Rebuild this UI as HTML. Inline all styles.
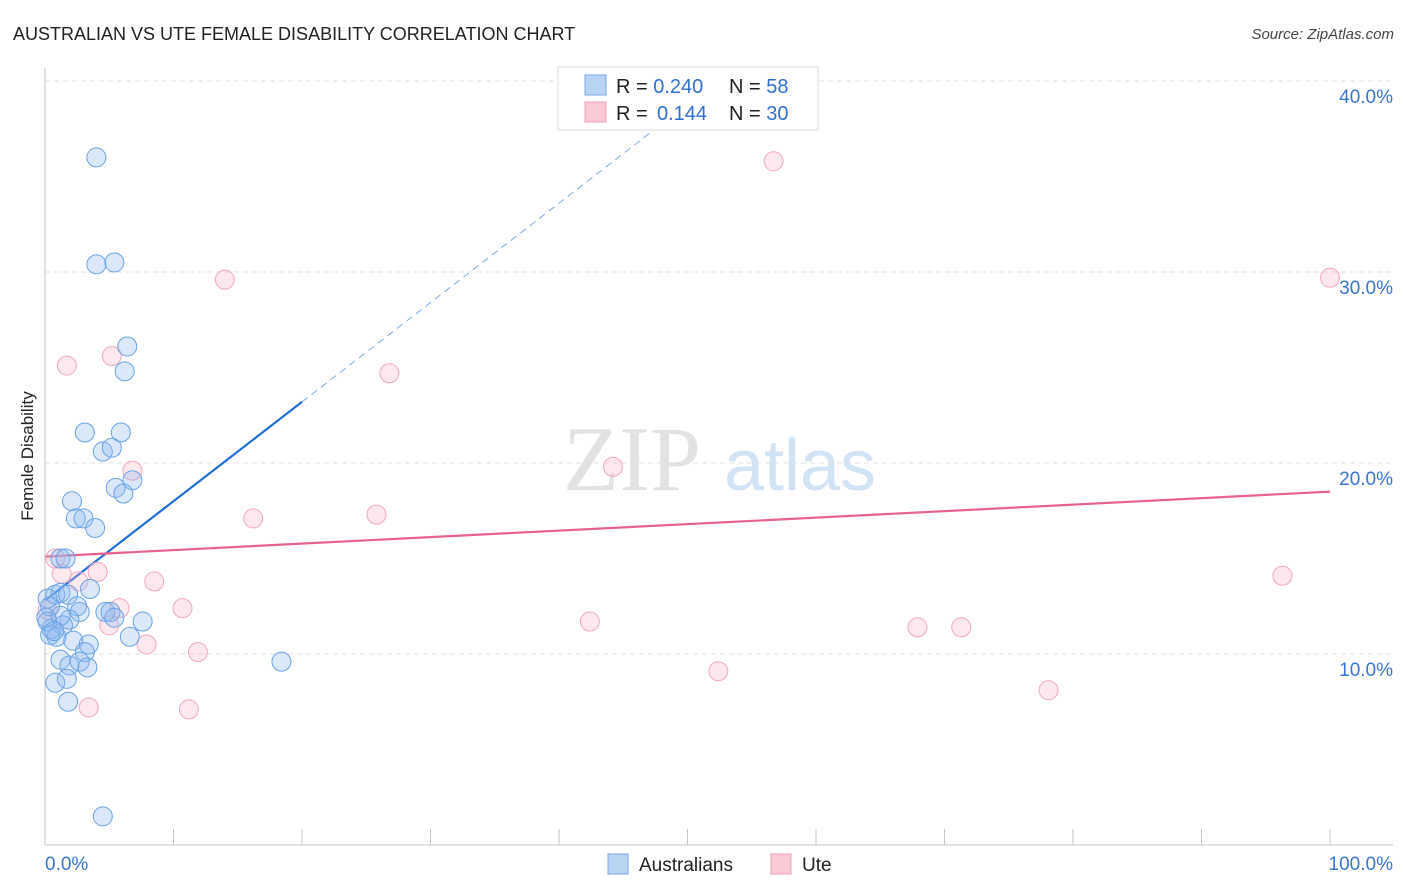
<!DOCTYPE html>
<html><head><meta charset="utf-8"><style>
body{margin:0;background:#fff;width:1406px;height:892px;overflow:hidden;font-family:"Liberation Sans",sans-serif;}
svg{position:absolute;left:0;top:0}
</style></head><body>
<svg id="chart" width="1406" height="892">
<text x="13" y="40" font-size="18" fill="#222">AUSTRALIAN VS UTE FEMALE DISABILITY CORRELATION CHART</text>
<text x="1394" y="39" font-size="15" fill="#444" font-style="italic" text-anchor="end">Source: ZipAtlas.com</text>
<text x="33" y="456" font-size="17" fill="#222" text-anchor="middle" transform="rotate(-90 33 456)">Female Disability</text>
<g><text x="632" y="490" font-size="92" fill="#e2e2e2" font-family="Liberation Serif,serif" text-anchor="middle">ZIP</text><text x="800" y="490" font-size="72" fill="#d3e3f6" text-anchor="middle">atlas</text></g>
<g id="grid"></g><g id="axes"></g><g id="trends"></g><g id="pts"></g>
<g>
<rect x="558" y="67" width="260" height="63" fill="#fff" stroke="#ddd"/>
<rect x="585" y="75" width="21" height="20" fill="#b9d3f3" stroke="#7aaae6"/>
<rect x="585" y="102" width="21" height="20" fill="#f9c9d6" stroke="#f0a0b8"/>
<text x="616" y="93" font-size="20" fill="#222">R = <tspan fill="#2f6fd0">0.240</tspan><tspan x="729">N = </tspan><tspan fill="#2f6fd0">58</tspan></text>
<text x="616" y="120" font-size="20" fill="#222">R = <tspan x="657" fill="#2f6fd0">0.144</tspan><tspan x="729">N = </tspan><tspan fill="#2f6fd0">30</tspan></text>
</g>
<g>
<rect x="608" y="854" width="20" height="20" fill="#b9d3f3" stroke="#7aaae6"/>
<text x="639" y="871" font-size="19" fill="#222">Australians</text>
<rect x="771" y="854" width="20" height="20" fill="#f9c9d6" stroke="#f0a0b8"/>
<text x="802" y="871" font-size="19" fill="#222">Ute</text>
</g>
</svg>
<script>
const yTicks=[10,20,30,40];
const xTickLabels=["0.0%","100.0%"];
const ausX=[4.0,4.0,5.4,6.4,6.2,3.1,5.9,4.5,5.2,5.5,6.8,6.1,2.1,2.4,3.0,3.9,1.2,1.6,0.8,1.2,1.8,3.5,0.4,2.5,2.7,4.7,5.1,1.9,1.4,7.6,0.2,0.5,0.4,0.9,2.2,3.4,6.6,3.1,1.2,1.9,2.7,3.3,18.4,0.8,1.7,1.8,4.5,0.1,1.2,5.4,0.7,0.2];
const ausY=[36.0,30.4,30.5,26.1,24.8,21.6,21.6,20.6,20.8,18.7,19.1,18.4,18.0,17.1,17.1,16.6,15.0,15.0,13.1,13.2,13.1,13.4,12.5,12.5,12.2,12.2,12.2,11.8,11.5,11.7,11.7,11.3,11.0,10.9,10.7,10.5,10.9,10.1,9.7,9.4,9.6,9.3,9.6,8.5,8.7,7.5,1.5,11.9,12.0,11.9,11.2,12.9];
const uteX=[56.7,14.0,100,5.2,1.7,26.8,6.8,44.2,16.2,25.8,0.8,1.3,4.1,2.6,8.5,0.2,5.8,10.7,42.4,5.0,67.9,71.3,7.9,11.9,52.4,78.1,3.4,11.2,96.3];
const uteY=[35.8,29.6,29.7,25.6,25.1,24.7,19.6,19.8,17.1,17.3,15.0,14.2,14.3,13.8,13.8,12.3,12.4,12.4,11.7,11.5,11.4,11.4,10.5,10.1,9.1,8.1,7.2,7.1,14.1];
const ausTrend=[12.8,0.52];
const uteTrend=[15.1,0.034];
const NS="http://www.w3.org/2000/svg";
const X=v=>45+v*12.85, Y=v=>845-v*19.1;
function mk(tag,at,parent){const e=document.createElementNS(NS,tag);for(const k in at)e.setAttribute(k,at[k]);document.getElementById(parent).appendChild(e);return e;}
yTicks.forEach(t=>{
 const g=mk('line',{x1:45,x2:1393,y1:Y(t),y2:Y(t),stroke:'#e0e0e0','stroke-dasharray':'5,4'},'grid');
 
 
 const l=mk('text',{x:1393,y:Y(t)+22,'font-size':19,fill:'#3a75d0','text-anchor':'end'},'grid');
 l.textContent=t.toFixed(1)+'%';
 
 
});
let a=mk('line',{x1:45,x2:45,y1:68,y2:845,stroke:'#c4c4c4'},'axes');


a=mk('line',{x1:45,x2:1393,y1:845,y2:845,stroke:'#c4c4c4'},'axes');


for(let i=0;i<=10;i++){const t=mk('line',{x1:X(i*10),x2:X(i*10),y1:829,y2:845,stroke:'#c4c4c4'},'axes');
 
 }
[0,1].forEach(i=>{const t=mk('text',{x:i?1393:45,y:870,'font-size':19,fill:'#3a75d0','text-anchor':i?'end':'start'},'axes');t.textContent=xTickLabels[i];
 
 });
function drawPts(xs,ys,fill,stroke,name){xs.forEach((x,i)=>{const c=mk('circle',{cx:X(x),cy:Y(ys[i]),r:9.5,fill:fill,stroke:stroke,'stroke-width':1},'pts');
 
 });}
drawPts(uteX,uteY,'rgba(248,180,200,0.3)','#f2a8bf','ute-point');
drawPts(ausX,ausY,'rgba(140,185,240,0.32)','#6aa3e4','australian-point');
let t=mk('line',{x1:X(0),y1:Y(ausTrend[0]),x2:X(20),y2:Y(ausTrend[0]+20*ausTrend[1]),stroke:'#1f6fd6','stroke-width':2.2},'trends');


const xe=(40.5-ausTrend[0])/ausTrend[1];
t=mk('line',{x1:X(20),y1:Y(ausTrend[0]+20*ausTrend[1]),x2:X(xe),y2:Y(40.5),stroke:'#7aaae6','stroke-width':1,'stroke-dasharray':'7,5'},'trends');


t=mk('line',{x1:X(0),y1:Y(uteTrend[0]),x2:X(100),y2:Y(uteTrend[0]+100*uteTrend[1]),stroke:'#e8608e','stroke-width':2.2},'trends');


</script>
</body></html>
